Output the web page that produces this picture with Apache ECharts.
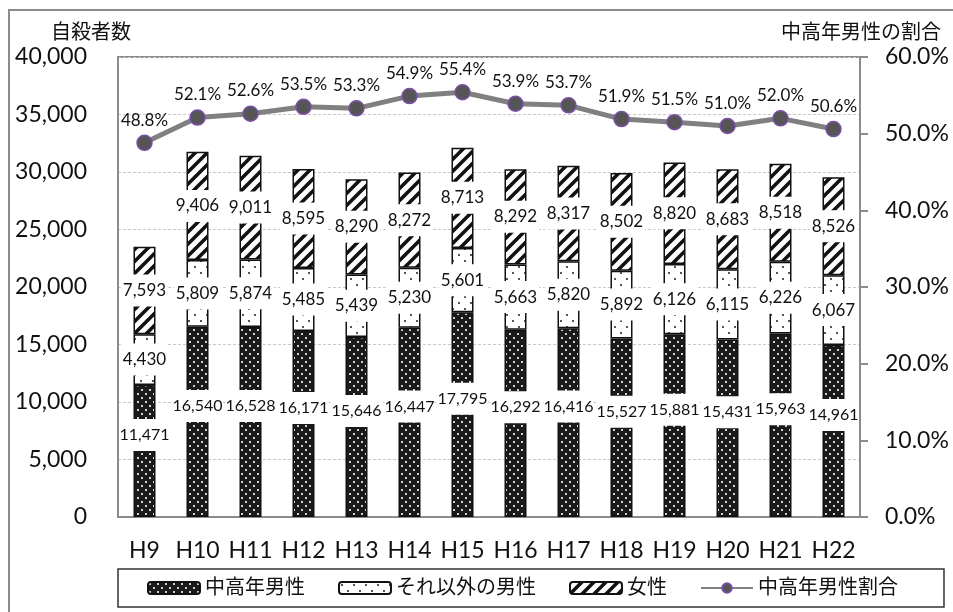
<!DOCTYPE html>
<html>
<head>
<meta charset="utf-8">
<script src="https://cdn.jsdelivr.net/npm/echarts@6/dist/echarts.min.js"></script>
<style>
html,body{margin:0;padding:0;background:#fff;}
#c{width:953px;height:612px;}
</style>
</head>
<body>
<div id="c"></div>
<script>
const categories = ['H9','H10','H11','H12','H13','H14','H15','H16','H17','H18','H19','H20','H21','H22'];
const middleAgedMale = [11471,16540,16528,16171,15646,16447,17795,16292,16416,15527,15881,15431,15963,14961];
const otherMale = [4430,5809,5874,5485,5439,5230,5601,5663,5820,5892,6126,6115,6226,6067];
const female = [7593,9406,9011,8595,8290,8272,8713,8292,8317,8502,8820,8683,8518,8526];
const middleAgedRatio = [48.8,52.1,52.6,53.5,53.3,54.9,55.4,53.9,53.7,51.9,51.5,51.0,52.0,50.6];
const leftTicks = {min:0, max:40000, interval:5000};
const rightTicks = {min:0, max:60, interval:10};

function makeCanvas(w,h,draw){const c=document.createElement('canvas');c.width=w;c.height=h;draw(c.getContext('2d'));return c;}
const patDark = makeCanvas(8,8,g=>{g.fillStyle='#1a1a1a';g.fillRect(0,0,8,8);g.fillStyle='#cfcfcf';g.fillRect(1,1,2,2);g.fillRect(5,5,2,2);});
const patDots = makeCanvas(12,12,g=>{g.fillStyle='#fff';g.fillRect(0,0,12,12);g.fillStyle='#555';g.fillRect(2,2,2,2);g.fillRect(8,8,2,2);});
const patStripe = makeCanvas(12,12,g=>{g.fillStyle='#fff';g.fillRect(0,0,12,12);g.strokeStyle='#111';g.lineWidth=3.6;g.lineCap='square';
  g.beginPath();g.moveTo(-6,18);g.lineTo(18,-6);g.moveTo(-6,6);g.lineTo(6,-6);g.moveTo(6,18);g.lineTo(18,6);g.stroke();});

const FONT = "Lato, 'Noto Sans CJK JP', sans-serif";
const fmtNum = v => v.toLocaleString('en-US');

const barLabel = {
  show:true, position:'inside', color:'#111', fontSize:17, fontFamily:FONT,
  backgroundColor:'#fff', padding:[6,2], lineHeight:20,
  formatter:p=>fmtNum(p.value)
};

const chart = echarts.init(document.getElementById('c'));
chart.setOption({
  animation:false,
  backgroundColor:'#fff',
  textStyle:{fontFamily:FONT},
  title:[
    {text:'自殺者数', left:46, top:18, textStyle:{fontSize:20, fontWeight:'normal', color:'#111', fontFamily:FONT}},
    {text:'中高年男性の割合', right:7, top:18, textStyle:{fontSize:20, fontWeight:'normal', color:'#111', fontFamily:FONT}}
  ],
  graphic:[{type:'rect', shape:{x:9,y:10,width:980,height:640}, style:{fill:'none', stroke:'#8c8c8c', lineWidth:2}, silent:true}],
  grid:{left:118, right:93, top:57, bottom:95, show:true, borderColor:'#8c8c8c', borderWidth:2},
  legend:{
    left:118, top:569, itemWidth:52, itemHeight:12, itemGap:33,
    padding:[9,46,9,29], borderColor:'#333', borderWidth:1.5,
    textStyle:{fontSize:20, color:'#111', fontFamily:FONT},
    data:['中高年男性','それ以外の男性','女性','中高年男性割合']
  },
  xAxis:{
    type:'category', data:categories,
    axisLine:{lineStyle:{color:'#8c8c8c', width:2}},
    axisTick:{show:false},
    axisLabel:{interval:0, fontSize:23, color:'#111', margin:22, fontFamily:FONT}
  },
  yAxis:[
    {type:'value', min:leftTicks.min, max:leftTicks.max, interval:leftTicks.interval,
     axisLine:{show:true, lineStyle:{color:'#8c8c8c', width:2}},
     axisTick:{show:false},
     splitLine:{lineStyle:{color:'#c8c8c8', type:[3,2], width:1}},
     axisLabel:{fontSize:23, color:'#111', margin:31, formatter:v=>fmtNum(v), fontFamily:FONT}},
    {type:'value', min:rightTicks.min, max:rightTicks.max, interval:rightTicks.interval,
     axisLine:{show:true, lineStyle:{color:'#8c8c8c', width:2}},
     axisTick:{show:true, inside:false, length:8, lineStyle:{color:'#8c8c8c', width:2}},
     splitLine:{show:false},
     axisLabel:{fontSize:23, color:'#111', margin:25, formatter:v=>v.toFixed(1)+'%', fontFamily:FONT}}
  ],
  series:[
    {name:'中高年男性', type:'bar', stack:'t', data:middleAgedMale, barWidth:22,
     itemStyle:{color:{image:patDark, repeat:'repeat'}, borderColor:'#111', borderWidth:1.5},
     label:Object.assign({}, barLabel, {offset:[0,-16], fontSize:16, padding:[6,0]})},
    {name:'それ以外の男性', type:'bar', stack:'t', data:otherMale, barWidth:22,
     itemStyle:{color:{image:patDots, repeat:'repeat'}, borderColor:'#111', borderWidth:1.5},
     label:barLabel},
    {name:'女性', type:'bar', stack:'t', data:female, barWidth:22,
     itemStyle:{color:{image:patStripe, repeat:'repeat'}, borderColor:'#111', borderWidth:1.5},
     label:barLabel},
    {name:'中高年男性割合', type:'line', yAxisIndex:1, data:middleAgedRatio, z:5,
     lineStyle:{color:'#808080', width:5},
     symbol:'circle', symbolSize:15,
     itemStyle:{color:'#555555', borderColor:'#7a4fa8', borderWidth:1.5},
     label:{show:true, position:'top', distance:6, fontSize:17, color:'#111', fontFamily:FONT,
            formatter:p=>p.value.toFixed(1)+'%'}}
  ]
});
</script>
</body>
</html>
